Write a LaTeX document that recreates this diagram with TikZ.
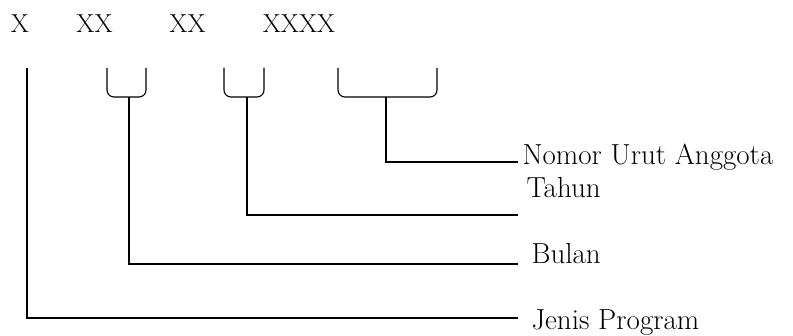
\documentclass[tikz,border=0pt]{standalone}
\usetikzlibrary{positioning}
\usetikzlibrary{calc}
\begin{document}
\begin{tikzpicture}[x=1pt,y=-1pt,line width=1.1pt,
  kode/.style={font=\fontsize{26}{30}\selectfont,anchor=base,inner sep=0pt},
  ket/.style={font=\fontsize{29}{33}\selectfont,anchor=base west,inner sep=0pt},
  kurung/.style={rounded corners=7pt}]
\useasboundingbox (0,0) rectangle (793,336);
  % kode anggota
  \node[kode] (K1) at (20,33) {X};
  \node[kode] (K2) at (94.5,33) {XX};
  \node[kode] (K3) at (187.5,33) {XX};
  \node[kode] (K4) at (299,33) {XXXX};

  % kurung di bawah kode
  \coordinate (A1) at (27,68);
  \draw[kurung] (107,68) -- (107,97) -- (146,97) -- (146,68);
  \coordinate (A2) at (129,97);
  \draw[kurung] (224,68) -- (224,97) -- (264,97) -- (264,68);
  \coordinate (A3) at (247,97);
  \draw[kurung] (338,68) -- (338,97) -- (437,97) -- (437,68);
  \coordinate (A4) at (386,97);

  % ujung garis
  \coordinate (B1) at (518,318);
  \coordinate (B2) at (518,264);
  \coordinate (B3) at (518,215);
  \coordinate (B4) at (518,162);

  % keterangan
  \node[ket] (L4) at (522,165) {Nomor Urut Anggota};
  \node[ket] (L3) at (526,198) {Tahun};
  \node[ket] (L2) at (531,264) {Bulan};
  \node[ket] (L1) at (531,330) {Jenis Program};

  \draw (A1) |- (B1);
  \draw (A2) |- (B2);
  \draw (A3) |- (B3);
  \draw (A4) |- (B4);
\end{tikzpicture}
\end{document}
